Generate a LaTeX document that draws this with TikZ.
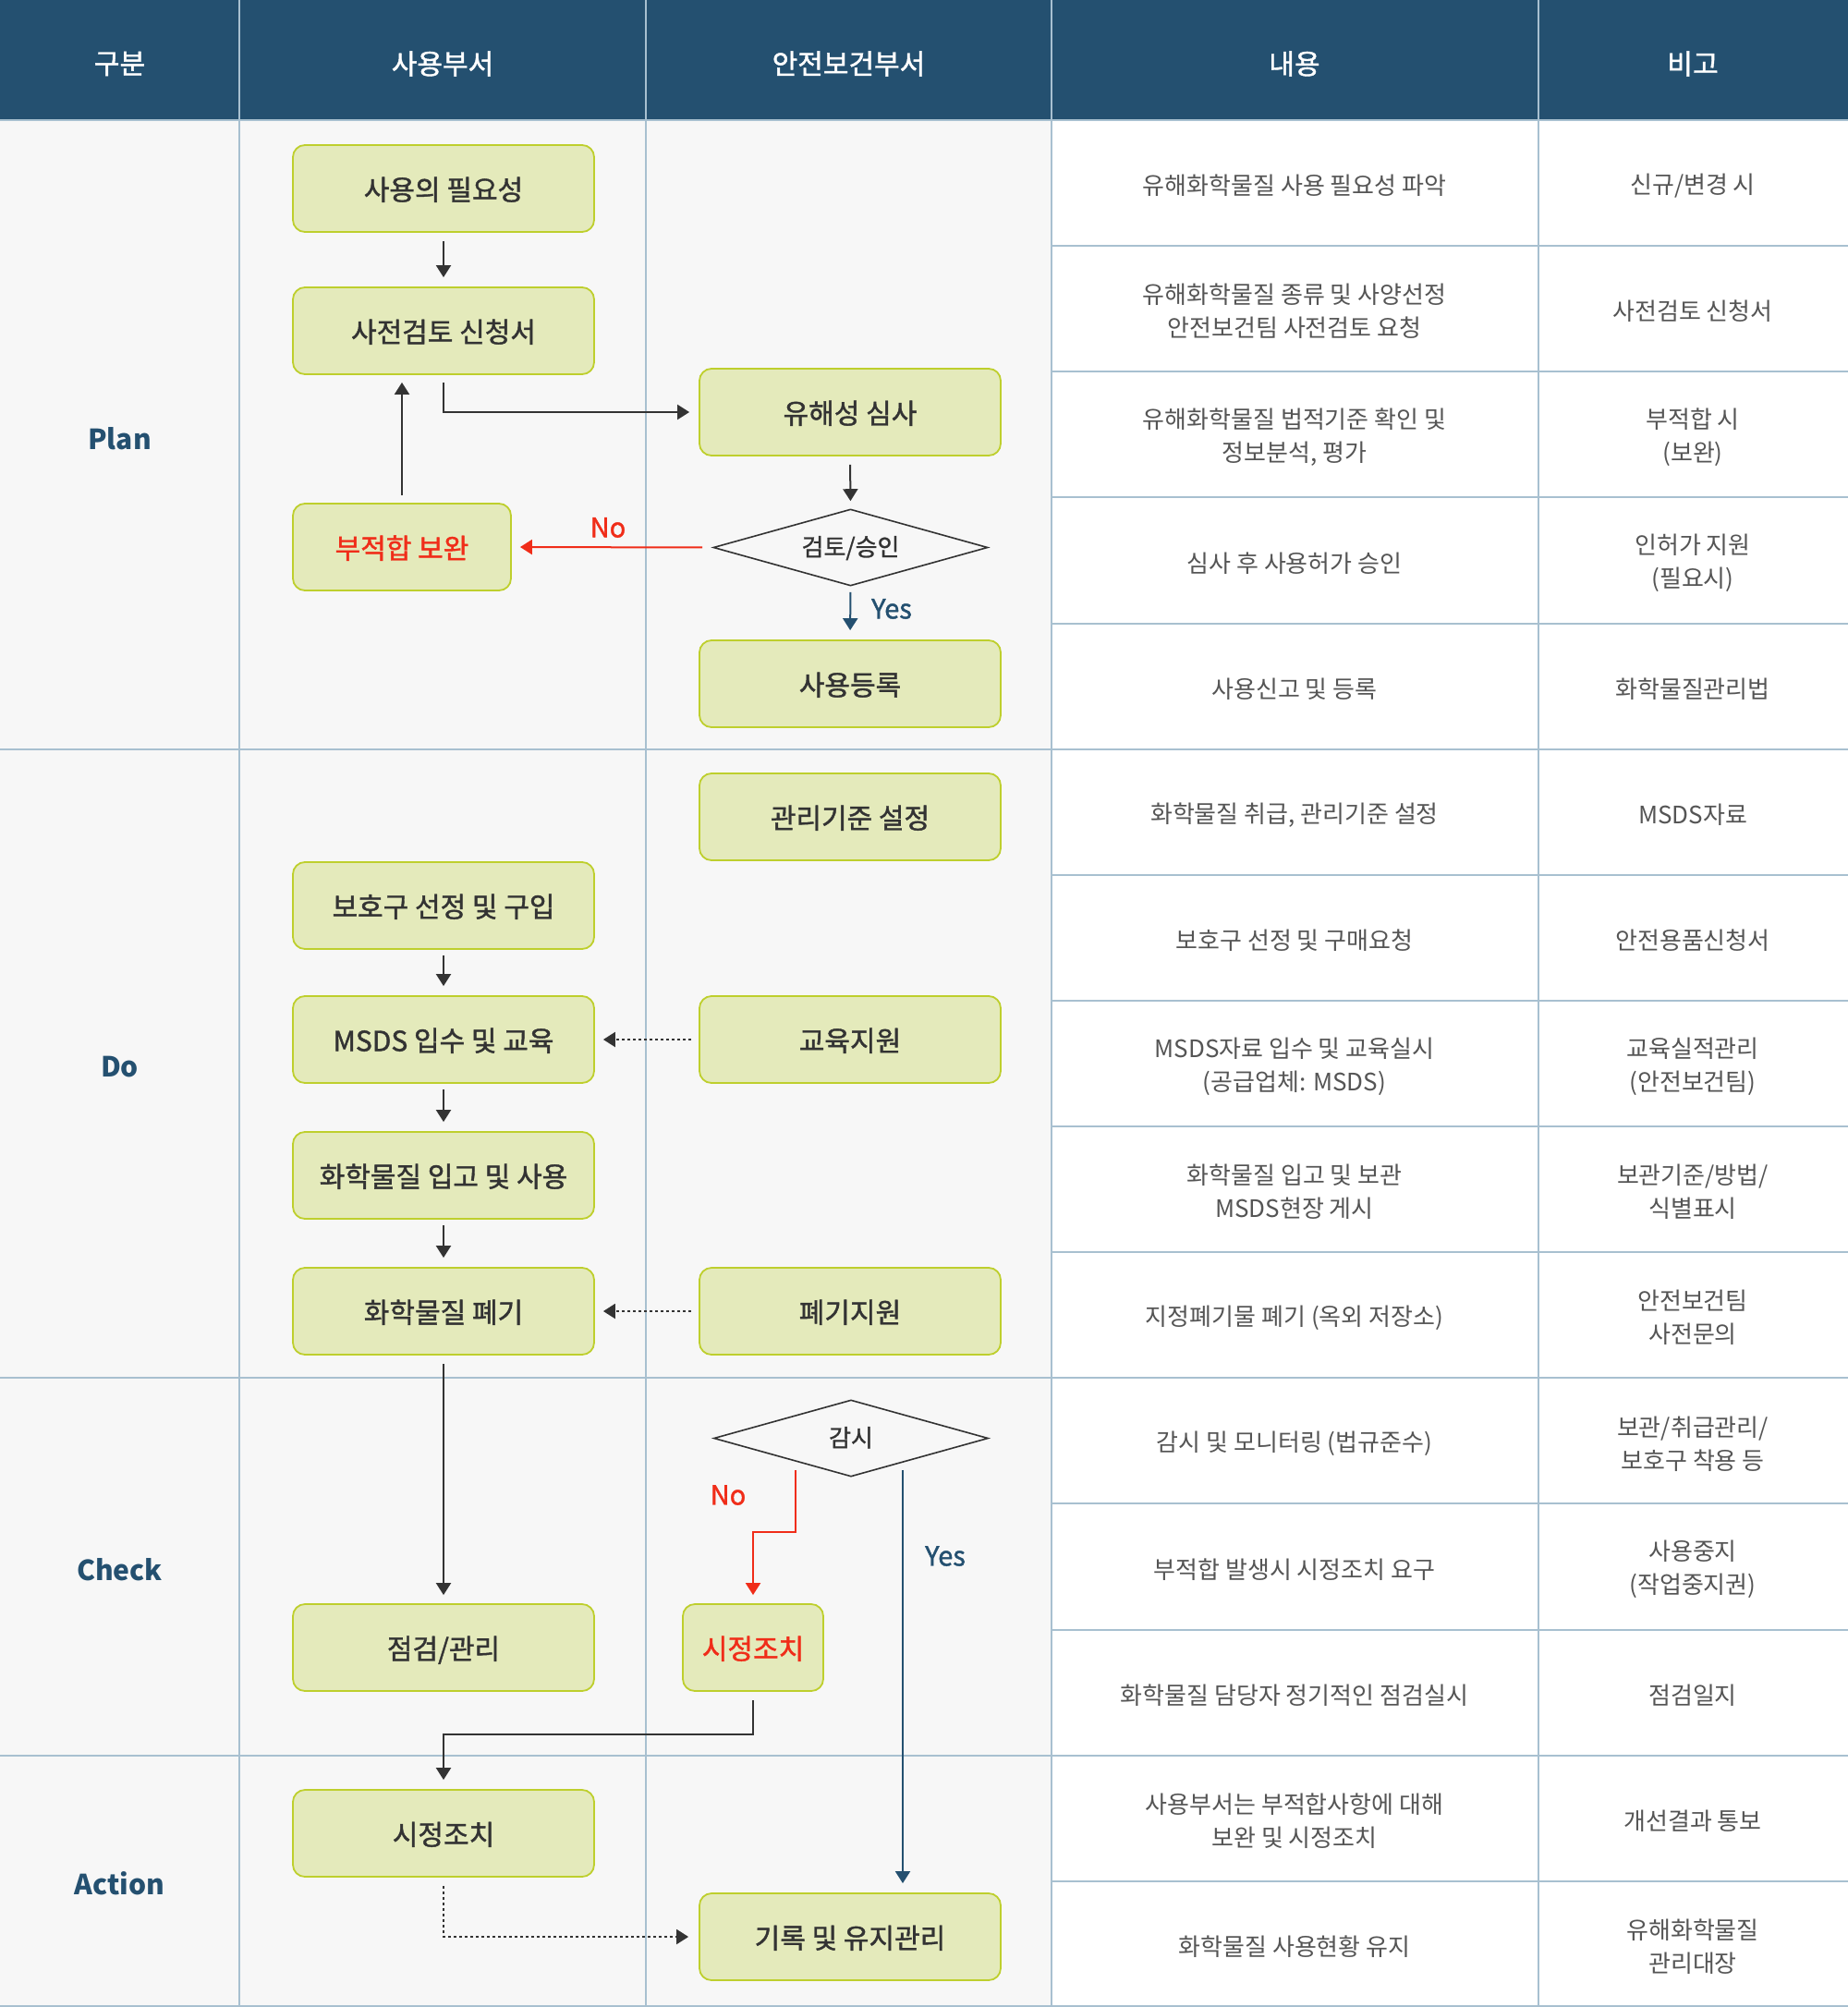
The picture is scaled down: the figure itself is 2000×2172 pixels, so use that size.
\documentclass[tikz,border=0pt]{standalone}
\usepackage{fontspec}
\setmainfont{Noto Sans CJK KR}
\newfontfamily\medfont[FakeBold=1.4]{Noto Sans CJK KR}
\newfontfamily\semifont[FakeBold=1.1]{Noto Sans CJK KR}
\usetikzlibrary{shapes.geometric,arrows.meta,calc}
\definecolor{hdr}{RGB}{36,80,112}
\definecolor{gridc}{RGB}{168,192,208}
\definecolor{bandbg}{RGB}{247,247,247}
\definecolor{boxfill}{RGB}{228,234,187}
\definecolor{boxline}{RGB}{190,207,45}
\definecolor{darktxt}{RGB}{51,51,51}
\definecolor{graytxt}{RGB}{85,85,85}
\definecolor{redc}{RGB}{240,45,25}
\begin{document}
\begin{tikzpicture}[x=0.5pt,y=-0.5pt,
  gridline/.style={draw=gridc,line width=1pt},
  stepbox/.style={rectangle,rounded corners=6.5pt,draw=boxline,fill=boxfill,line width=0.9pt,
    minimum width=163pt,minimum height=47pt,inner sep=0pt,text=darktxt,
    text height=1.25em,text depth=0em,
    font=\fontsize{15}{17}\medfont},
  decide/.style={diamond,aspect=3.6,draw=darktxt,line width=0.8pt,minimum width=148.5pt,minimum height=41.5pt,
    inner sep=0pt,text=darktxt,text height=0.95em,text depth=0.05em,font=\fontsize{13}{15}\semifont},
  hdrtxt/.style={text=white,font=\fontsize{15}{17}\medfont},
  bandtxt/.style={text=hdr,font=\fontsize{15}{18}\selectfont\bfseries},
  celltxt/.style={text=graytxt,align=center,font=\fontsize{13}{18}\selectfont},
  arr/.style={draw=darktxt,line width=1pt,-{Triangle[length=6.5pt,width=8pt]}},
  redarr/.style={draw=redc,line width=1pt,-{Triangle[length=6.5pt,width=8pt]}},
  bluearr/.style={draw=hdr,line width=1pt,-{Triangle[length=6.5pt,width=8pt]}},
  dotarr/.style={draw=darktxt,line width=1pt,dash pattern=on 1.5pt off 1.5pt,-{Triangle[length=6.5pt,width=8pt]}},
  redlbl/.style={text=redc,font=\fontsize{14.5}{17}\medfont},
  bluelbl/.style={text=hdr,font=\fontsize{14.5}{17}\medfont}
]
\useasboundingbox (0,0) rectangle (2000,2172);
% backgrounds
\fill[white] (0,0) rectangle (2000,2172);
\fill[bandbg] (0,130) rectangle (1138,2172);
\fill[hdr] (0,0) rectangle (2000,130);
% column lines
\foreach \xx in {259,699,1138,1665} \draw[gridline] (\xx,0) -- (\xx,2172);
\draw[gridline] (0,130) -- (2000,130);
% right table row lines
\foreach \k in {1,...,14} \draw[gridline] (1138,{130+136.13*\k}) -- (2000,{130+136.13*\k});
% band lines
\foreach \k in {5,10,13} \draw[gridline] (0,{130+136.13*\k}) -- (1138,{130+136.13*\k});
\draw[gridline] (0,2171) -- (2000,2171);

% header texts
\node[hdrtxt] (h1) at (129.5,69) {구분};
\node[hdrtxt] (h2) at (479,69) {사용부서};
\node[hdrtxt] (h3) at (918.5,69) {안전보건부서};
\node[hdrtxt] (h4) at (1401,69) {내용};
\node[hdrtxt] (h5) at (1832,69) {비고};

% band labels
\node[bandtxt] (bPlan) at (129.5,475) {Plan};
\node[bandtxt] (bDo) at (129.5,1155) {Do};
\node[bandtxt] (bCheck) at (129.5,1699) {Check};
\node[bandtxt] (bAction) at (129.5,2038) {Action};

% flow nodes
\node[stepbox] (n1) at (480,204) {사용의 필요성};
\node[stepbox] (n2) at (480,358) {사전검토 신청서};
\node[stepbox] (n3) at (920,446) {유해성 심사};
\node[stepbox,minimum width=118pt,text=redc] (n4) at (435,592) {부적합 보완};
\node[decide] (d1) at (920.5,592.5) {검토/승인};
\node[stepbox] (n5) at (920,740) {사용등록};
\node[stepbox] (n6) at (920,884) {관리기준 설정};
\node[stepbox] (n7) at (480,980) {보호구 선정 및 구입};
\node[stepbox] (n8) at (480,1125) {MSDS 입수 및 교육};
\node[stepbox] (n9) at (920,1125) {교육지원};
\node[stepbox] (n10) at (480,1272) {화학물질 입고 및 사용};
\node[stepbox] (n11) at (480,1419) {화학물질 폐기};
\node[stepbox] (n12) at (920,1419) {폐기지원};
\node[decide] (d2) at (921,1556.5) {감시};
\node[stepbox] (n13) at (480,1783) {점검/관리};
\node[stepbox,minimum width=76pt,text=redc] (n14) at (815,1783) {시정조치};
\node[stepbox] (n15) at (480,1984) {시정조치};
\node[stepbox] (n16) at (920,2096) {기록 및 유지관리};

% connectors
\draw[arr,shorten <=4.5pt,shorten >=5pt] (n1.south) -- (n2.north);
\draw[arr,shorten <=4pt,shorten >=5pt] (n2.south) |- (n3.west);
\draw[arr,shorten <=4.5pt,shorten >=4pt] (n3.south) -- (d1.north);
\draw[redarr,shorten <=5.5pt,shorten >=4.5pt] (d1.west) -- (n4.east);
\node[redlbl] (lNo1) at (658,571) {No};
\draw[arr,shorten <=4pt,shorten >=4pt] (n4.north) -- (n4.north |- n2.south);
\draw[bluearr,shorten <=3pt,shorten >=5pt] (d1.south) -- (n5.north);
\node[bluelbl] (lYes1) at (965,659) {Yes};
\draw[arr,shorten <=3pt,shorten >=5pt] (n7.south) -- (n8.north);
\draw[dotarr,shorten <=4pt,shorten >=4.5pt] (n9.west) -- (n8.east);
\draw[arr,shorten <=3pt,shorten >=5pt] (n8.south) -- (n10.north);
\draw[arr,shorten <=3pt,shorten >=5pt] (n10.south) -- (n11.north);
\draw[dotarr,shorten <=4pt,shorten >=4.5pt] (n12.west) -- (n11.east);
\draw[arr,shorten <=4.5pt,shorten >=4.5pt] (n11.south) -- (n13.north);
\coordinate (s1) at ($(d2.south)+(-60,-8)$);
\coordinate (s2) at ($(d2.south)+(56,-8)$);
\draw[redarr,shorten >=4.5pt] (s1) -- ++(0,67) -| (n14.north);
\node[redlbl] (lNo2) at (788,1618) {No};
\draw[bluearr,shorten >=5pt] (s2) -- (s2 |- n16.north);
\node[bluelbl] (lYes2) at (1023,1684) {Yes};
\draw[arr,shorten <=4.5pt,shorten >=5pt] (n14.south) -- ++(0,46) -| (n15.north);
\draw[dotarr,shorten <=4.5pt,shorten >=5.5pt] (n15.south) |- (n16.west);

% table texts
\foreach \k/\a/\b in {
 0/{유해화학물질 사용 필요성 파악}/{신규/변경 시},
 1/{유해화학물질 종류 및 사양선정\\안전보건팀 사전검토 요청}/{사전검토 신청서},
 2/{유해화학물질 법적기준 확인 및\\정보분석, 평가}/{부적합 시\\(보완)},
 3/{심사 후 사용허가 승인}/{인허가 지원\\(필요시)},
 4/{사용신고 및 등록}/{화학물질관리법},
 5/{화학물질 취급, 관리기준 설정}/{MSDS자료},
 6/{보호구 선정 및 구매요청}/{안전용품신청서},
 7/{MSDS자료 입수 및 교육실시\\(공급업체: MSDS)}/{교육실적관리\\(안전보건팀)},
 8/{화학물질 입고 및 보관\\MSDS현장 게시}/{보관기준/방법/\\식별표시},
 9/{지정폐기물 폐기 (옥외 저장소)}/{안전보건팀\\사전문의},
 10/{감시 및 모니터링 (법규준수)}/{보관/취급관리/\\보호구 착용 등},
 11/{부적합 발생시 시정조치 요구}/{사용중지\\(작업중지권)},
 12/{화학물질 담당자 정기적인 점검실시}/{점검일지},
 13/{사용부서는 부적합사항에 대해\\보완 및 시정조치}/{개선결과 통보},
 14/{화학물질 사용현황 유지}/{유해화학물질\\관리대장}}
{
 \node[celltxt] (c\k a) at (1401,{133+136.13*(\k+0.5)}) {\a};
 \node[celltxt] (c\k b) at (1832,{133+136.13*(\k+0.5)}) {\b};
}
\end{tikzpicture}
\end{document}
